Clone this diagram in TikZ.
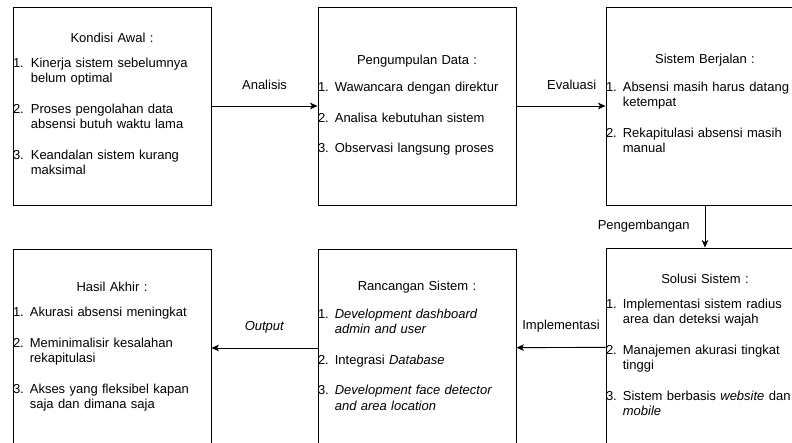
\documentclass[tikz,border=0pt]{standalone}
\usepackage{fontspec}
\setmainfont{Liberation Sans}
\usepackage{tikz}
\usetikzlibrary{positioning,shapes,arrows.meta}

\newcommand{\judul}[1]{\hspace*{\fill}#1\hspace*{\fill}\par\vspace{13pt}}
\newcommand{\jarak}{15pt}

\begin{document}
\begin{tikzpicture}[
    x=1pt,
    y=-1pt,
    box/.style={
        rectangle,
        draw=black,
        line width=0.9pt,
        minimum width=198pt,
        minimum height=198pt,
        inner xsep=0pt,
        text width=198pt,
        align=left,
        font=\fontsize{13}{15.5}\selectfont,
        execute at begin node={\setlength{\parindent}{0pt}}
    },
    lbl/.style={font=\fontsize{13}{15.5}\selectfont, inner sep=0pt},
    line/.style={draw, line width=0.9pt, -{Stealth[length=7.5pt, width=6.5pt, inset=2pt]}}
]
    \useasboundingbox (0,0) rectangle (792,443);

    % Top row
    \node[box] (awal) at (112,106) {\judul{Kondisi Awal :}
        \begin{tabular}{@{}r@{\hspace{7pt}}l@{}}
        1. & Kinerja sistem sebelumnya\\
           & belum optimal\\[\jarak]
        2. & Proses pengolahan data\\
           & absensi butuh waktu lama\\[\jarak]
        3. & Keandalan sistem kurang\\
           & maksimal
        \end{tabular}};
    \node[box] (data) at (417,106) {\judul{Pengumpulan Data :}
        \begin{tabular}{@{}r@{\hspace{6pt}}l@{}}
        1. & Wawancara dengan direktur\\[\jarak]
        2. & Analisa kebutuhan sistem\\[\jarak]
        3. & Observasi langsung proses
        \end{tabular}};
    \node[box] (jalan) at (705,106) {\judul{Sistem Berjalan :}
        \begin{tabular}{@{}r@{\hspace{6pt}}l@{}}
        1. & Absensi masih harus datang\\
           & ketempat\\[\jarak]
        2. & Rekapitulasi absensi masih\\
           & manual
        \end{tabular}};

    % Bottom row
    \node[box] (solusi) at (705,347) {\judul{Solusi Sistem :}
        \begin{tabular}{@{}r@{\hspace{6pt}}l@{}}
        1. & Implementasi sistem radius\\
           & area dan deteksi wajah\\[\jarak]
        2. & Manajemen akurasi tingkat\\
           & tinggi\\[\jarak]
        3. & Sistem berbasis \textit{website} dan\\
           & \textit{mobile}
        \end{tabular}};
    \node[box] (rancang) at (417,348) {\judul{Rancangan Sistem :}
        \begin{tabular}{@{}r@{\hspace{6pt}}l@{}}
        1. & \textit{Development dashboard}\\
           & \textit{admin and user}\\[\jarak]
        2. & Integrasi \textit{Database}\\[\jarak]
        3. & \textit{Development face detector}\\
           & \textit{and area location}
        \end{tabular}};
    \node[box] (hasil) at (112,348) {\judul{Hasil Akhir :}
        \begin{tabular}{@{}r@{\hspace{6pt}}l@{}}
        1. & Akurasi absensi meningkat\\[\jarak]
        2. & Meminimalisir kesalahan\\
           & rekapitulasi\\[\jarak]
        3. & Akses yang fleksibel kapan\\
           & saja dan dimana saja
        \end{tabular}};

    % Connections
    \draw[line] (awal) -- node[lbl, midway, yshift=21pt] {Analisis} (data);
    \draw[line] (data) -- node[lbl, pos=0.62, yshift=21pt] {Evaluasi} (jalan);
    \draw[line] (jalan) -- node[lbl, midway, left=15pt] {Pengembangan} (solusi);
    \draw[line] (solusi) -- node[lbl, midway, yshift=21pt] {Implementasi} (rancang);
    \draw[line] (rancang) -- node[lbl, midway, yshift=21pt] {\textit{Output}} (hasil);
\end{tikzpicture}
\end{document}
